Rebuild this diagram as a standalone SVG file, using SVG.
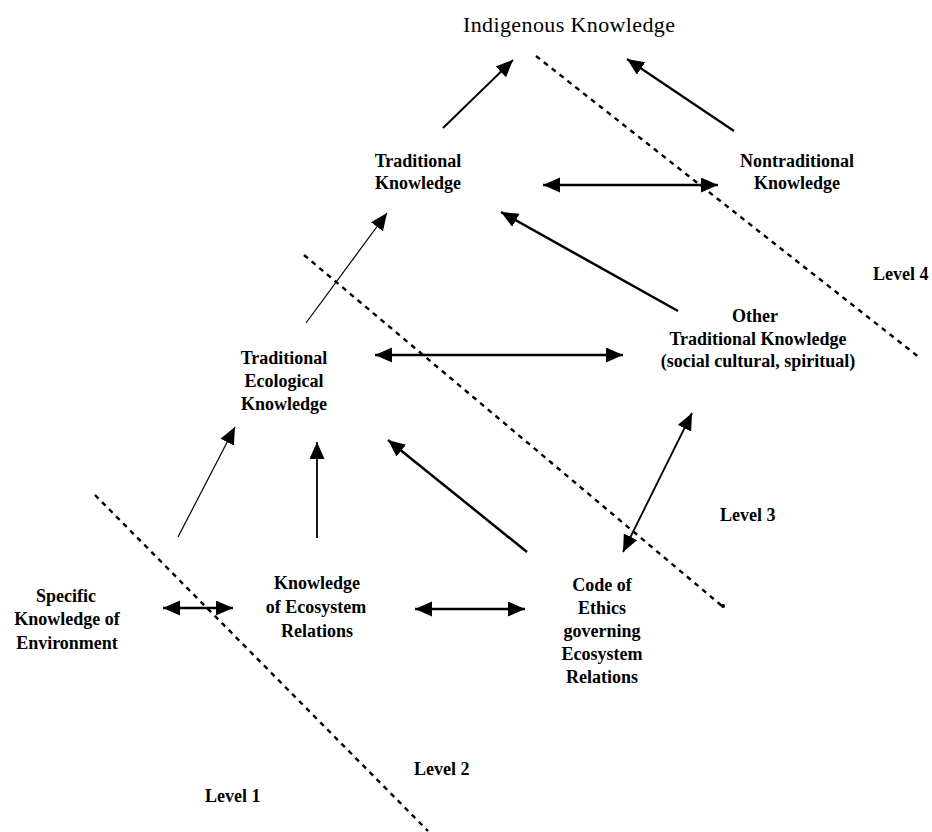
<svg xmlns="http://www.w3.org/2000/svg" width="932" height="832" viewBox="0 0 932 832">
<style>
.t{font-family:"Liberation Serif","Times New Roman",serif;font-size:18px;font-weight:bold;fill:#000;text-anchor:middle}
.lv{font-family:"Liberation Serif","Times New Roman",serif;font-size:18px;font-weight:bold;fill:#000}
.title{font-family:"Liberation Serif","Times New Roman",serif;font-size:22px;fill:#000;text-anchor:middle}
.a{stroke:#000;fill:none;marker-end:url(#ah)}
.d{marker-start:url(#ah)}
.dash{stroke:#000;stroke-width:2.4;stroke-dasharray:5 5;fill:none}
</style>
<defs>
<marker id="ah" markerUnits="userSpaceOnUse" markerWidth="18" markerHeight="16" refX="17" refY="7.5" orient="auto-start-reverse">
<path d="M0,0 L17,7.5 L0,15 z" fill="#000"/>
</marker>
</defs>
<rect width="932" height="832" fill="#fff"/>
<g id="levels">
<line class="dash" x1="536" y1="56" x2="920" y2="358"/>
<line class="dash" x1="304" y1="255" x2="722" y2="606"/>
<circle cx="723" cy="606" r="2" fill="#000"/>
<line class="dash" x1="95" y1="495" x2="428" y2="831"/>
<text class="lv" x="873" y="280">Level 4</text>
<text class="lv" x="720" y="521">Level 3</text>
<text class="lv" x="414" y="775">Level 2</text>
<text class="lv" x="205" y="802">Level 1</text>
</g>
<g id="connectors">
<line class="a" stroke-width="2" x1="443" y1="128" x2="513" y2="60"/>
<line class="a" stroke-width="2.2" x1="734" y1="131" x2="627" y2="59"/>
<line class="a d" stroke-width="2.5" x1="543" y1="185" x2="718" y2="185"/>
<line class="a" stroke-width="1.2" x1="306" y1="323" x2="387" y2="213"/>
<line class="a" stroke-width="2.5" x1="678" y1="311" x2="501" y2="212"/>
<line class="a d" stroke-width="2.5" x1="375" y1="355" x2="623" y2="355"/>
<line class="a" stroke-width="1.2" x1="178" y1="537" x2="235" y2="427"/>
<line class="a" stroke-width="1.8" x1="317" y1="538" x2="317" y2="442"/>
<line class="a" stroke-width="2.5" x1="527" y1="552" x2="388" y2="440"/>
<line class="a d" stroke-width="1.8" x1="623" y1="552" x2="692" y2="413"/>
<line class="a d" stroke-width="2.5" x1="163" y1="608" x2="233" y2="608"/>
<line class="a d" stroke-width="2.5" x1="415" y1="609" x2="525" y2="609"/>
</g>
<g id="indigenous-knowledge">
<text class="title" x="569" y="32" textLength="212">Indigenous Knowledge</text>
</g>
<g id="traditional-knowledge">
<text class="t" x="418" y="167">Traditional</text>
<text class="t" x="418" y="189">Knowledge</text>
</g>
<g id="nontraditional-knowledge">
<text class="t" x="797" y="167">Nontraditional</text>
<text class="t" x="797" y="189">Knowledge</text>
</g>
<g id="traditional-ecological-knowledge">
<text class="t" x="284" y="364">Traditional</text>
<text class="t" x="284" y="387">Ecological</text>
<text class="t" x="284" y="410">Knowledge</text>
</g>
<g id="other-traditional-knowledge">
<text class="t" x="755" y="322">Other</text>
<text class="t" x="758" y="345">Traditional Knowledge</text>
<text class="t" x="758" y="367">(social cultural, spiritual)</text>
</g>
<g id="specific-knowledge">
<text class="t" x="66" y="602">Specific</text>
<text class="t" x="67" y="625">Knowledge of</text>
<text class="t" x="67" y="649">Environment</text>
</g>
<g id="knowledge-ecosystem-relations">
<text class="t" x="317" y="589">Knowledge</text>
<text class="t" x="316" y="613">of Ecosystem</text>
<text class="t" x="317" y="637">Relations</text>
</g>
<g id="code-of-ethics">
<text class="t" x="602" y="591">Code of</text>
<text class="t" x="602" y="614">Ethics</text>
<text class="t" x="602" y="637">governing</text>
<text class="t" x="602" y="660">Ecosystem</text>
<text class="t" x="602" y="683">Relations</text>
</g>
</svg>
